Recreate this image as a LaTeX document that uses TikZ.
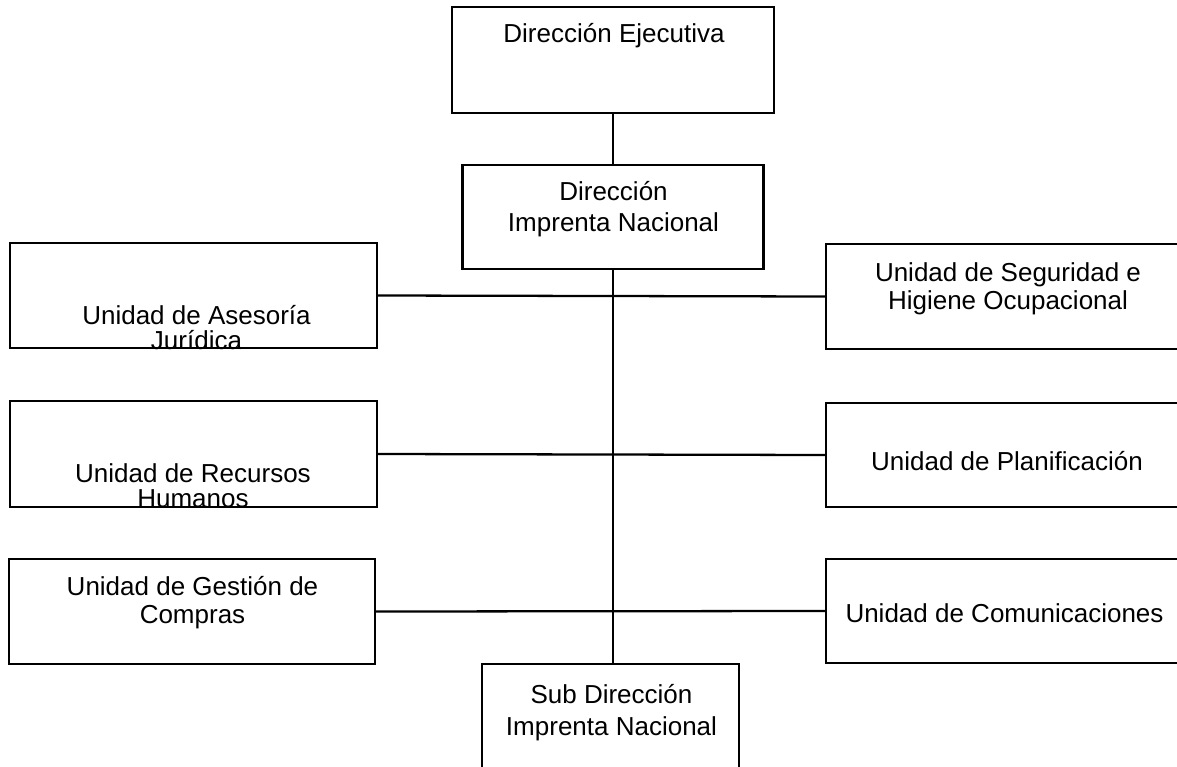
\documentclass[tikz,border=0pt]{standalone}
\usepackage{fontspec}
\setmainfont{Liberation Sans}
\usetikzlibrary{positioning}
\newcommand{\boxfont}[1]{\fontsize{14.8pt}{#1}\selectfont}
\tikzset{
        boxnode/.style={draw, line width=1.3pt, inner sep=0pt},
        boxtext/.style={align=center, inner sep=0pt, anchor=base},
        link/.style={line width=1.3pt}
}

\begin{document}
\begin{tikzpicture}[x=0.02cm, y=-0.02cm]
        \useasboundingbox (0, 0) rectangle (1177, 767);
        \clip (0, 0) rectangle (1177, 767);

        \node[boxnode, minimum width=6.44cm, minimum height=2.12cm] (ejec) at (613, 60) {};
        \node[boxnode, minimum width=6.02cm, minimum height=2.08cm] (dir) at (613, 217) {};
        \node[boxnode, minimum width=7.34cm, minimum height=2.10cm] (aseso) at (193.5, 295.5) {};
        \node[boxnode, minimum width=7.34cm, minimum height=2.10cm] (segur) at (1009.5, 296.5) {};
        \node[boxnode, minimum width=7.34cm, minimum height=2.12cm] (recur) at (193.5, 454) {};
        \node[boxnode, minimum width=7.34cm, minimum height=2.08cm] (plan) at (1009.5, 455) {};
        \node[boxnode, minimum width=7.32cm, minimum height=2.10cm] (gest) at (192, 611.5) {};
        \node[boxnode, minimum width=7.34cm, minimum height=2.08cm] (comun) at (1009.5, 611) {};
        \node[boxnode, minimum width=5.14cm, minimum height=2.20cm] (sub) at (610.5, 719) {};

        \draw[link] (ejec.south) -- (dir.north);
        \draw[link] (dir.south) -- (dir.south |- sub.north);
        \draw[link] (aseso.east) -- (segur.west);
        \draw[link] (recur.east) -- (plan.west);
        \draw[link] (gest.east) -- (comun.west);

        \node[boxtext, font={\boxfont{18.2pt}}] (ejectxt) at (614, 43) {Dirección Ejecutiva};
        \node[boxtext, font={\boxfont{18.2pt}}] (dirtxt) at (613.5, 232) {Dirección\\Imprenta Nacional};
        \node[boxtext, font={\boxfont{15.9pt}}] (segurtxt) at (1008, 309) {Unidad de Seguridad e\\Higiene Ocupacional};
        \node[boxtext, font={\boxfont{15.9pt}}] (plantxt) at (1007, 470) {Unidad de Planificación};
        \node[boxtext, font={\boxfont{15.9pt}}] (gesttxt) at (192.5, 623) {Unidad de Gestión de\\Compras};
        \node[boxtext, font={\boxfont{15.9pt}}] (comuntxt) at (1004.5, 622) {Unidad de Comunicaciones};
        \node[boxtext, font={\boxfont{18.2pt}}] (subtxt) at (611.5, 735) {Sub Dirección\\Imprenta Nacional};

        \begin{scope}
                \clip (aseso.south west) rectangle (aseso.north east);
                \node[boxtext, font={\boxfont{13.7pt}}] (asesotxt) at (196.5, 349) {Unidad de Asesoría\\Jurídica};
        \end{scope}
        \begin{scope}
                \clip (recur.south west) rectangle (recur.north east);
                \node[boxtext, font={\boxfont{13.7pt}}] (recurtxt) at (193, 507) {Unidad de Recursos\\Humanos};
        \end{scope}
\end{tikzpicture}
\end{document}
